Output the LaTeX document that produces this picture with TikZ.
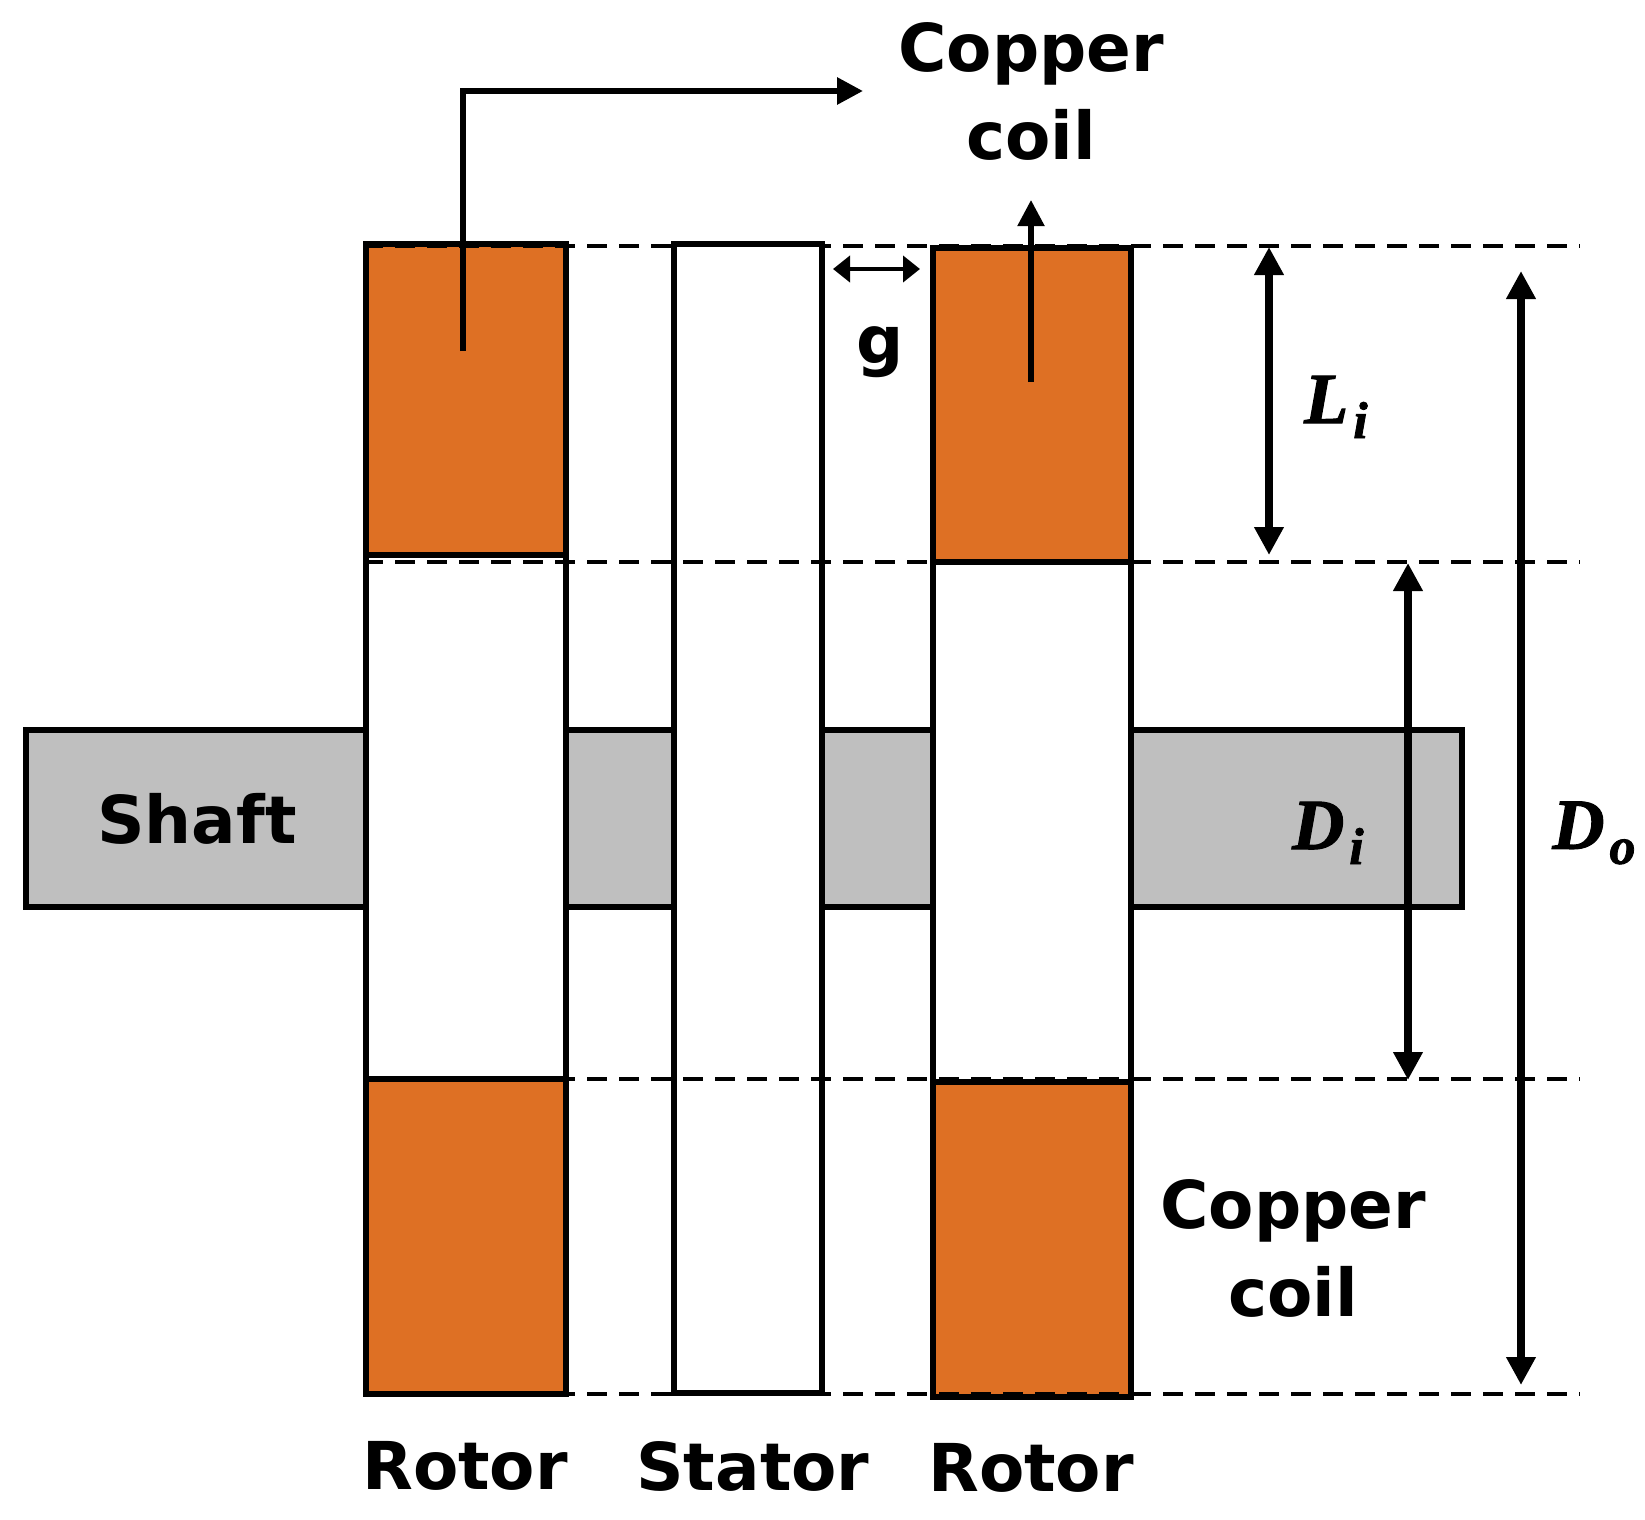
\documentclass[tikz,border=0pt]{standalone}
\usepackage{fontspec}
\setmainfont{DejaVu Sans}
\newfontfamily\dimfont{Liberation Serif}[BoldItalicFeatures={FakeBold=1.6}]
\usetikzlibrary{arrows.meta, positioning}

\newcommand{\dimlabel}[2]{{\dimfont\bfseries\itshape #1\kern2.5pt\raisebox{-7.5pt}{\fontsize{26}{26}\selectfont #2}}}

\begin{document}
\begin{tikzpicture}[
    x=0.5pt, y=-0.5pt,
    shaftbox/.style={rectangle, draw=black, fill=shaftgray, line width=2.8pt, inner sep=0pt},
    plainbox/.style={rectangle, draw=black, fill=white, line width=2.6pt, inner sep=0pt},
    coilbox/.style={rectangle, draw=black, fill=coilorange, line width=2.6pt, inner sep=0pt},
    title/.style={font=\fontsize{33}{44}\selectfont\bfseries, align=center, inner sep=0pt},
    dimtext/.style={font=\fontsize{36}{40}\selectfont, inner sep=0pt},
    guide/.style={line width=1.6pt, dash pattern=on 10pt off 6pt},
    pointer/.style={-{Triangle[length=13pt,width=13pt]}, line width=3pt},
    gaparrow/.style={{Triangle[length=8.5pt,width=13pt]}-{Triangle[length=8.5pt,width=13pt]}, line width=2pt},
    dimarrow/.style={{Triangle[length=14pt,width=14pt]}-{Triangle[length=14pt,width=14pt]}, line width=4.4pt}
]
\definecolor{coilorange}{HTML}{DE7024}
\definecolor{shaftgray}{HTML}{BFBFBF}

\useasboundingbox (0,0) rectangle (1645,1520);

% shaft behind the discs
\node[shaftbox, minimum width=718pt, minimum height=88.5pt] (shaft) at (744,818.5) {};

% discs
\node[plainbox, minimum width=100pt, minimum height=575pt] (rotorA) at (466,819) {};
\node[plainbox, minimum width=99pt, minimum height=574.5pt] (rotorB) at (1032,822.5) {};

% copper coils
\node[coilbox, minimum width=100pt, minimum height=155.5pt] (coilAtop) at (466,399.5) {};
\node[coilbox, minimum width=100pt, minimum height=157.5pt] (coilAbot) at (466,1236.5) {};
\node[coilbox, minimum width=99pt, minimum height=157pt] (coilBtop) at (1032,405) {};
\node[coilbox, minimum width=99pt, minimum height=157.5pt] (coilBbot) at (1032,1239.5) {};

% dashed guide lines
\coordinate (guideA) at (1580,246);
\coordinate (guideB) at (1580,562);
\coordinate (guideC) at (1580,1079);
\coordinate (guideD) at (1580,1394);
\draw[guide] (guideA -| rotorA.west) -- (guideA);

% stator hides the top guide only
\node[plainbox, minimum width=74pt, minimum height=574.5pt] (stator) at (748,818.5) {};

\draw[guide] (guideB -| rotorA.west) -- (guideB);
\draw[guide] (guideC -| rotorA.west) -- (guideC);
\draw[guide] (guideD -| rotorA.west) -- (guideD);

% labels
\node[title] (coilTopLabel) at (1031,91) {Copper\\coil};
\node[title] (coilBotLabel) at (1293,1248) {Copper\\coil};
\node[title] (shaftLabel) at (197,819) {Shaft};
\node[title] (rotorALabel) at (465,1466) {Rotor};
\node[title] (statorLabel) at (753,1466) {Stator};
\node[title] (rotorBLabel) at (1031,1468) {Rotor};
\node[title] (gapLabel) at (880,352) {g};
\node[dimtext] (lenLabel) at (1336,407) {\dimlabel{L}{i}};
\node[dimtext] (innerLabel) at (1328,833) {\dimlabel{D}{i}};
\node[dimtext] (outerLabel) at (1594,833) {\dimlabel{D}{o}};

% pointers to the coil text
\coordinate (tailA) at (463,351);
\coordinate (headA) at (863,91);
\coordinate (tailB) at (1031,382);
\coordinate (headB) at (1031,200);
\draw[pointer] (tailA) |- (headA);
\draw[pointer, line width=2.6pt] (tailB) -- (headB);

% dimensions
\coordinate (gapL) at (833,269);
\coordinate (gapR) at (920,269);
\coordinate (lenT) at (1269,247);
\coordinate (lenB) at (1269,555);
\coordinate (innerT) at (1408,563);
\coordinate (innerB) at (1408,1080);
\coordinate (outerT) at (1521,271);
\coordinate (outerB) at (1521,1385);
\draw[gaparrow] (gapL) -- (gapR);
\draw[dimarrow] (lenT) -- (lenB);
\draw[dimarrow] (innerT) -- (innerB);
\draw[dimarrow] (outerT) -- (outerB);

\end{tikzpicture}
\end{document}
